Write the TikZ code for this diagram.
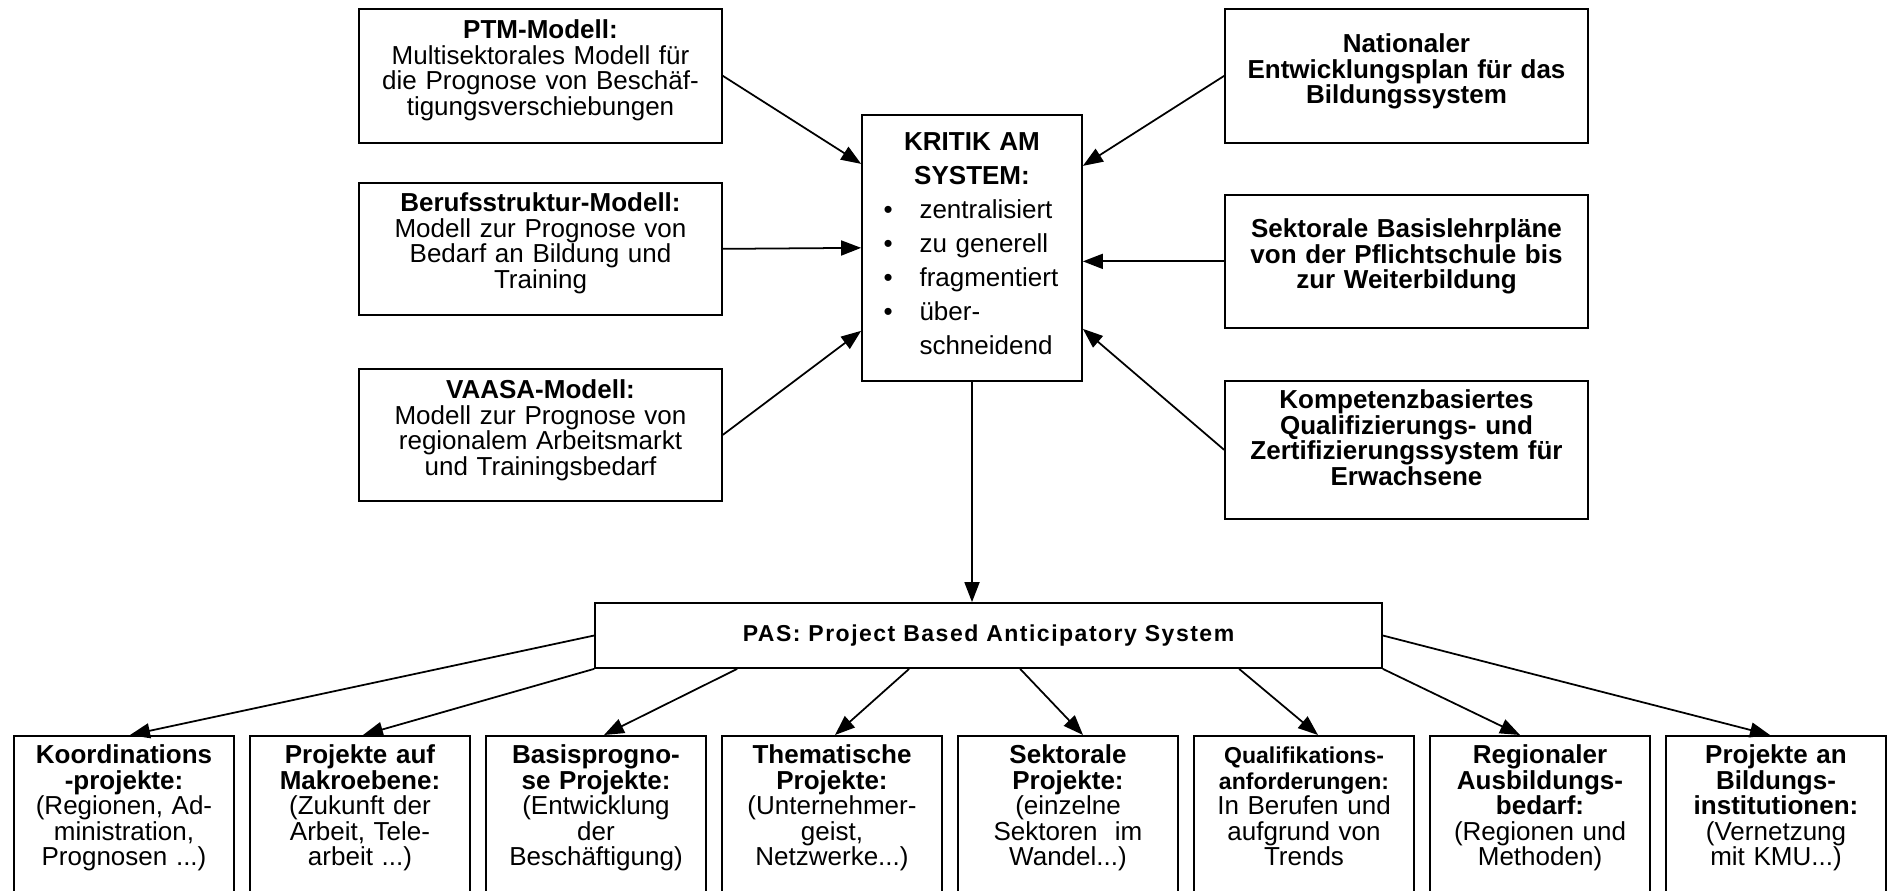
\documentclass[tikz,border=0pt]{standalone}
\usepackage{fontspec}
\setmainfont{Liberation Sans}
\usetikzlibrary{arrows.meta}

\newcommand{\boxfont}{\fontsize{14.8}{14.5}\selectfont}
\newcommand{\kritikfont}{\fontsize{14.8}{19.35}\selectfont}
\newcommand{\kzeile}[2]{\makebox[3.54cm][l]{\makebox[0.72cm][l]{#1}#2}}

\begin{document}
\begin{tikzpicture}[x=0.02cm, y=-0.02cm, line width=1pt,
    modell/.style 2 args={draw, anchor=north, minimum width=7.26cm, text width=7.06cm,
      inner xsep=0.1cm, inner ysep=0pt, align=center, font=\boxfont,
      text height=#1, text depth=#2},
    projekt/.style={draw, anchor=north, minimum width=4.4cm, text width=4.24cm,
      inner xsep=0.08cm, inner ysep=0pt, align=center, font=\boxfont,
      text height=0.56cm, text depth=2.9cm},
    pfeil/.style={-{Triangle[length=0.4cm, width=0.3cm]}}]

        % Page frame
        \path[use as bounding box] (0,0) rectangle (1888,891);
        \clip (0,0) rectangle (1888,891);

        % Models on the left
        \node[modell={0.6cm}{2.08cm}] (ptm) at (540.5,8)
          {\textbf{PTM-Modell:}\\ Multisektorales Modell für\\ die Prognose von Beschäf-\\ tigungsverschiebungen};
        \node[modell={0.58cm}{2.06cm}] (beruf) at (540.5,182)
          {\textbf{Berufsstruktur-Modell:}\\ Modell zur Prognose von\\ Bedarf an Bildung und\\ Training};
        \node[modell={0.6cm}{2.04cm}] (vaasa) at (540.5,368)
          {\textbf{VAASA-Modell:}\\ Modell zur Prognose von\\ regionalem Arbeitsmarkt\\ und Trainingsbedarf};

        % Plans on the right
        \node[modell={0.88cm}{1.8cm}, font=\boxfont\bfseries] (plan) at (1406.5,8)
          {Nationaler\\ Entwicklungsplan für das\\ Bildungssystem};
        \node[modell={0.86cm}{1.8cm}, font=\boxfont\bfseries] (lehrplan) at (1406.5,194)
          {Sektorale Basislehrpläne\\ von der Pflichtschule bis\\ zur Weiterbildung};
        \node[modell={0.56cm}{2.2cm}, font=\boxfont\bfseries] (kompetenz) at (1406.5,380)
          {Kompetenzbasiertes\\ Qualifizierungs- und\\ Zertifizierungssystem für\\ Erwachsene};

        % Criticism in the middle
        \node[draw, anchor=north, minimum width=4.4cm, text width=4.4cm, inner xsep=0pt,
          inner ysep=0pt, align=center, font=\kritikfont, text height=0.72cm, text depth=4.6cm]
          (kritik) at (972,114)
          {\textbf{KRITIK AM}\\ \textbf{SYSTEM:}\\ \kzeile{\textbullet}{zentralisiert}\\
           \kzeile{\textbullet}{zu generell}\\ \kzeile{\textbullet}{fragmentiert}\\
           \kzeile{\textbullet}{über-}\\ \kzeile{}{schneidend}};

        % PAS
        \node[draw, minimum width=15.74cm, minimum height=1.3cm, inner sep=0pt,
          font=\fontsize{13.1}{14.5}\selectfont\bfseries\addfontfeature{LetterSpace=6.5}]
          (pas) at (988.5,635.5)
          {PAS: Project Based Anticipatory System};

        % Projects at the bottom
        \node[projekt] (p1) at (124,735) {\textbf{Koordinations}\\ \textbf{-projekte:}\\ (Regionen, Ad-\\ ministration,\\ Prognosen ...)};
        \node[projekt] (p2) at (360,735) {\textbf{Projekte auf}\\ \textbf{Makroebene:}\\ (Zukunft der\\ Arbeit, Tele-\\ arbeit ...)};
        \node[projekt] (p3) at (596,735) {\textbf{Basisprogno-}\\ \textbf{se Projekte:}\\ (Entwicklung\\ der\\ Beschäftigung)};
        \node[projekt] (p4) at (832,735) {\textbf{Thematische}\\ \textbf{Projekte:}\\ (Unternehmer-\\ geist,\\ Netzwerke...)};
        \node[projekt] (p5) at (1068,735) {\textbf{Sektorale}\\ \textbf{Projekte:}\\ (einzelne\\ Sektoren~~im\\ Wandel...)};
        \node[projekt] (p6) at (1304,735) {\textbf{\fontsize{13.1}{14.5}\selectfont Qualifikations-}\\ \textbf{\fontsize{13.1}{14.5}\selectfont anforderungen:}\\ In Berufen und\\ aufgrund von\\ Trends};
        \node[projekt] (p7) at (1540,735) {\textbf{Regionaler}\\ \textbf{Ausbildungs-}\\ \textbf{bedarf:}\\ (Regionen und\\ Methoden)};
        \node[projekt] (p8) at (1776,735) {\textbf{Projekte an}\\ \textbf{Bildungs-}\\ \textbf{institutionen:}\\ (Vernetzung\\ mit KMU...)};

        % Arrows into the criticism
        \draw[pfeil] (ptm.east) -- ([yshift=1.68cm]kritik.west);
        \draw[pfeil] (beruf.east) -- (kritik.west);
        \draw[pfeil] (vaasa.east) -- ([yshift=-1.66cm]kritik.west);
        \draw[pfeil] (plan.west) -- ([yshift=1.64cm]kritik.east);
        \draw[pfeil] (lehrplan.west) -- (lehrplan.west -| kritik.east);
        \draw[pfeil] (kompetenz.west) -- ([yshift=-1.62cm]kritik.east);

        % Down to PAS
        \draw[pfeil] (kritik.south) -- (kritik.south |- pas.north);

        % Out to the projects
        \draw[pfeil] (pas.west) -- ([xshift=0.12cm]p1.north);
        \draw[pfeil] (pas.south west) -- ([xshift=0.06cm]p2.north);
        \draw[pfeil] ([xshift=2.86cm]pas.south west) -- ([xshift=0.16cm]p3.north);
        \draw[pfeil] ([xshift=6.3cm]pas.south west) -- ([xshift=0.06cm]p4.north);
        \draw[pfeil] ([xshift=8.52cm]pas.south west) -- ([xshift=0.3cm]p5.north);
        \draw[pfeil] ([xshift=12.9cm]pas.south west) -- ([xshift=0.28cm]p6.north);
        \draw[pfeil] (pas.south east) -- ([xshift=-0.4cm]p7.north);
        \draw[pfeil] (pas.east) -- ([xshift=-0.12cm]p8.north);
      \end{tikzpicture}
\end{document}
